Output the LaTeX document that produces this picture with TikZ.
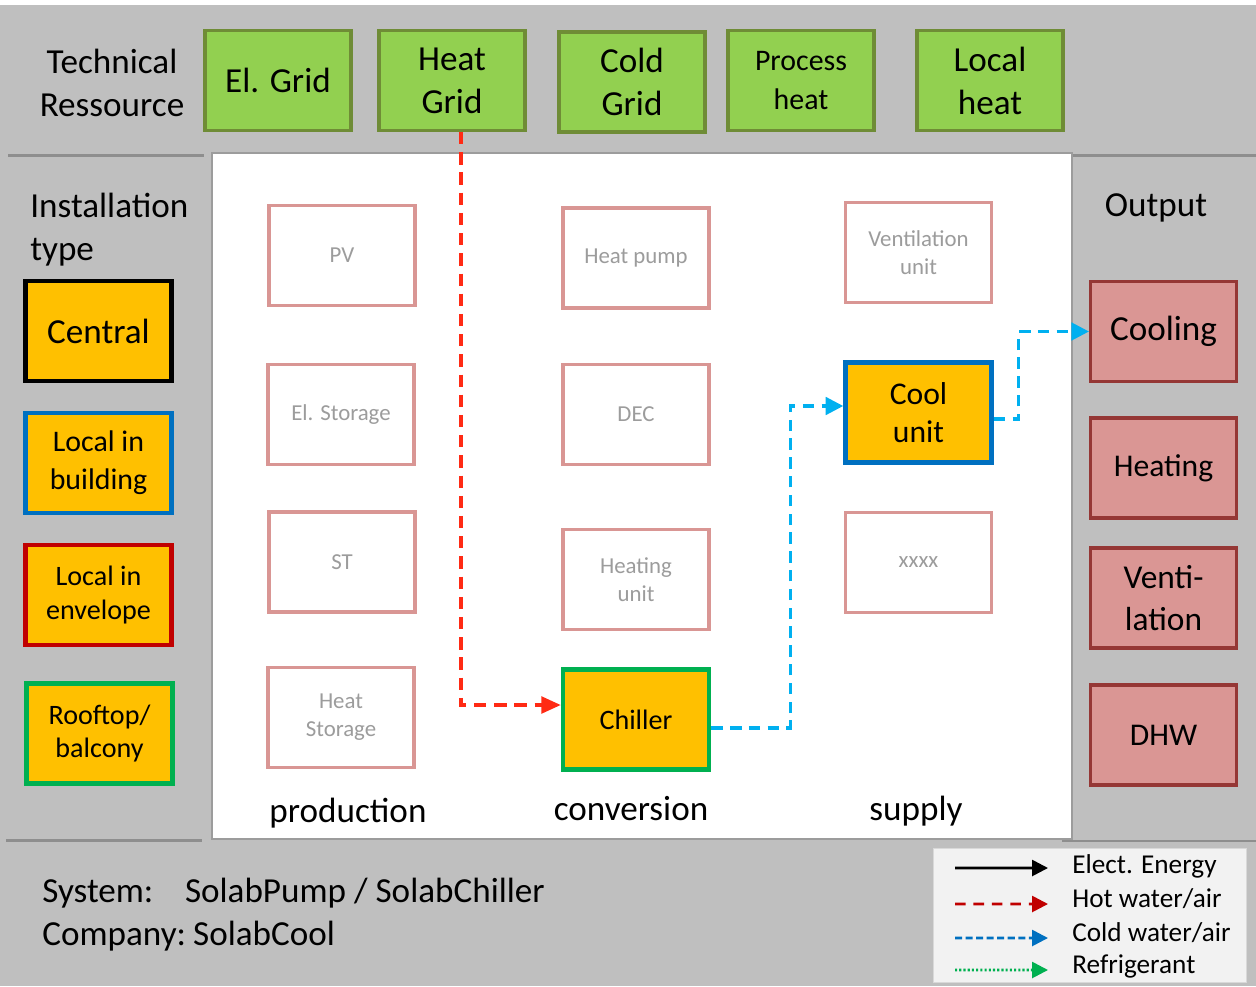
\documentclass[tikz,border=0pt]{standalone}
\usepackage{fontspec}
\setmainfont{Carlito}
\usetikzlibrary{arrows.meta}
\definecolor{bggray}{HTML}{BFBFBF}
\definecolor{sepgray}{HTML}{8E8E8E}
\definecolor{gridgreen}{HTML}{92D050}
\definecolor{gridline}{HTML}{6F8C36}
\definecolor{instorange}{HTML}{FFC000}
\definecolor{instblue}{HTML}{0070C0}
\definecolor{instred}{HTML}{C00000}
\definecolor{instgreen}{HTML}{00B050}
\definecolor{pinkline}{HTML}{D99694}
\definecolor{outfill}{HTML}{DA9694}
\definecolor{outline}{HTML}{953735}
\definecolor{greytext}{HTML}{9C9C9C}
\definecolor{hotred}{HTML}{FF2A14}
\definecolor{coldblue}{HTML}{00B0F0}
\begin{document}
\begin{tikzpicture}[x=0.02cm,y=-0.02cm,
    box/.style={draw,minimum width=2.92cm,minimum height=2cm,align=center,inner sep=1pt},
    grid/.style={box,fill=gridgreen,draw=gridline,line width=1.8pt},
    inst/.style={box,fill=instorange,line width=2.6pt},
    tech/.style={box,draw=pinkline,fill=white,line width=2.2pt,text=greytext,font=\fontsize{13}{16}\selectfont},
    used/.style={box,fill=instorange,line width=2.6pt},
    outbox/.style={box,fill=outfill,draw=outline,line width=1.8pt},
    big/.style={font=\fontsize{20}{24.5}\selectfont},
    mid/.style={font=\fontsize{17}{21.5}\selectfont},
    small/.style={font=\fontsize{16}{19}\selectfont},
    hotflow/.style={hotred,line width=1.8pt,dash pattern=on 7pt off 4.5pt,-{Triangle[length=11pt,width=9.5pt]}},
    coldflow/.style={coldblue,line width=1.8pt,dash pattern=on 6.5pt off 4.2pt,-{Triangle[length=10pt,width=10pt]}},
    legarrow/.style={line width=1.5pt,-{Triangle[length=9pt,width=9pt]}},
    legtext/.style={anchor=west,inner sep=0pt,font=\fontsize{15.5}{18}\selectfont}]
\useasboundingbox (0,0) rectangle (1256,986);
% background and panels
\fill[white] (0,0) rectangle (1256,986);
\fill[bggray] (0,5) rectangle (1256,986);
\draw[sepgray,line width=1.2pt] (8,155.5) -- (204,155.5);
\draw[sepgray,line width=1.2pt] (1072,155.5) -- (1256,155.5);
\draw[sepgray,line width=1.2pt] (6,840.5) -- (202,840.5);
\draw[sepgray,line width=1.2pt] (1062,841) -- (1256,841);
\draw[fill=white,draw=greytext,line width=0.6pt] (212,153) rectangle (1072,839);
% technical ressources
\node[big,align=center] (techres) at (112,83) {Technical\\Ressource};
\node[grid,big] (elgrid) at (278,80.5) {El. Grid};
\node[grid,big] (heatgrid) at (452,80.5) {Heat\\Grid};
\node[grid,big] (coldgrid) at (632,82) {Cold\\Grid};
\node[grid,font=\fontsize{17}{22}\selectfont] (procheat) at (801,80.5) {Process\\heat};
\node[grid,big] (localheat) at (990,80.5) {Local\\heat};
% installation type
\node[big,align=left,anchor=west,inner sep=0pt] (insttype) at (30,229.5) {Installation\\type};
\node[inst,big] (central) at (98.5,331) {Central};
\node[inst,mid,draw=instblue] (locbuild) at (98.5,463) {Local in\\building};
\node[inst,small,draw=instred] (locenv) at (98.5,595) {Local in\\envelope};
\node[inst,small,draw=instgreen] (rooftop) at (99.5,733.5) {Rooftop/\\balcony};
% production
\node[tech] (pv) at (342,255.5) {PV};
\node[tech] (elstor) at (341,414.5) {El. Storage};
\node[tech] (st) at (342,562) {ST};
\node[tech] (heatstor) at (341,717.5) {Heat\\Storage};
\node[big] (prod) at (348,813) {production};
% conversion
\node[tech] (heatpump) at (636,258) {Heat pump};
\node[tech] (dec) at (636,414.5) {DEC};
\node[tech] (heatunit) at (636,579.5) {Heating\\unit};
\node[used,draw=instgreen,font=\fontsize{16}{19}\selectfont] (chiller) at (636,719.5) {Chiller};
\node[big] (conv) at (631,809) {conversion};
% supply
\node[tech] (ventunit) at (918.5,252.5) {Ventilation\\unit};
\node[used,draw=instblue,font=\fontsize{18}{21.5}\selectfont] (coolunit) at (918.5,412.5) {Cool\\unit};
\node[tech] (xxxx) at (918.5,562.5) {xxxx};
\node[big] (supply) at (916,811) {supply};
% output
\node[big] (output) at (1156,208) {Output};
\node[outbox,big] (cooling) at (1163.5,331.5) {Cooling};
\node[outbox,font=\fontsize{18}{22}\selectfont] (heating) at (1163.5,468) {Heating};
\node[outbox,font=\fontsize{19}{24}\selectfont] (ventil) at (1163.5,598) {Venti-\\lation};
\node[outbox,font=\fontsize{18}{22}\selectfont] (dhw) at (1163.5,735) {DHW};
% flows
\draw[hotflow] ([xshift=0.18cm]heatgrid.south) |- ([yshift=0.29cm]chiller.west);
\draw[coldflow] ([yshift=-0.17cm]chiller.east) -- ++(79,0) |- ([yshift=0.13cm]coolunit.west);
\draw[coldflow] ([yshift=-0.13cm]coolunit.east) -- ++(25,0) |- (cooling.west);
% system info
\node[big,align=left,anchor=west,inner sep=0pt] (sysinfo) at (42,915) {System:\hspace{0.6em} SolabPump / SolabChiller\\Company:\hspace{-0.1em} SolabCool};
% legend
\node[draw=black!15,fill=black!5,minimum width=6.26cm,minimum height=2.68cm,inner sep=0pt] (legend) at (1089.5,915) {};
\node[legtext] (lt1) at (1072,866) {Elect. Energy};
\node[legtext] (lt2) at (1072,899) {Hot water/air};
\node[legtext] (lt3) at (1072,933) {Cold water/air};
\node[legtext] (lt4) at (1072,966) {Refrigerant};
\coordinate (ls1) at (955,868);
\coordinate (ls2) at (955,904);
\coordinate (ls3) at (955,938);
\coordinate (ls4) at (955,970);
\draw[legarrow,black] (ls1) -- ([xshift=-0.48cm,yshift=-0.04cm]lt1.west);
\draw[legarrow,instred,dash pattern=on 6pt off 4.5pt] (ls2) -- ([xshift=-0.48cm,yshift=-0.1cm]lt2.west);
\draw[legarrow,instblue,dash pattern=on 4pt off 2pt] (ls3) -- ([xshift=-0.48cm,yshift=-0.1cm]lt3.west);
\draw[legarrow,instgreen,dash pattern=on 1.2pt off 1.2pt] (ls4) -- ([xshift=-0.48cm,yshift=-0.08cm]lt4.west);
\end{tikzpicture}
\end{document}
